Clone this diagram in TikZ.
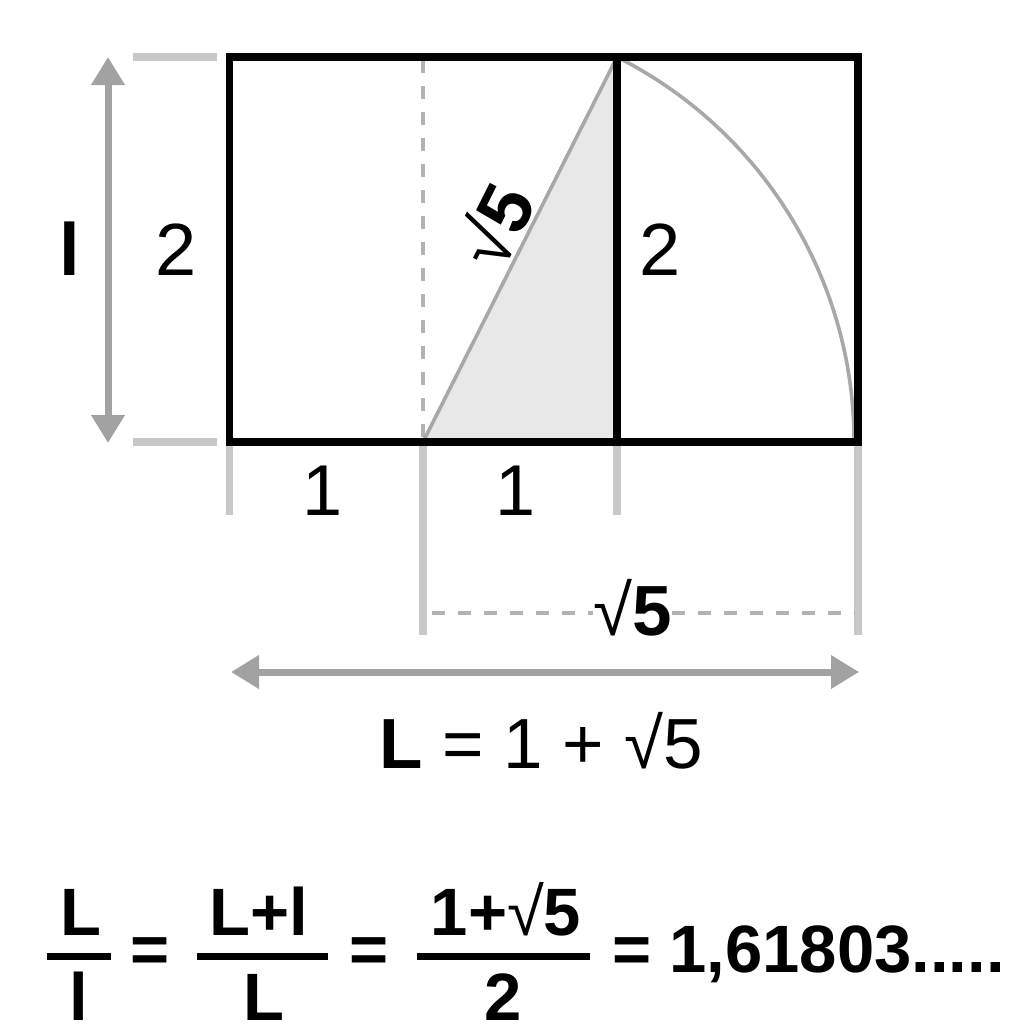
\documentclass[tikz,border=0pt]{standalone}
\usepackage{fontspec}
\setmainfont{Liberation Sans}
\usetikzlibrary{arrows.meta}
\definecolor{arrowgray}{HTML}{A2A2A2}
\definecolor{extgray}{HTML}{C8C8C8}
\definecolor{dashgray}{HTML}{B2B2B2}
\definecolor{guidegray}{HTML}{A8A8A8}
\definecolor{trifill}{HTML}{E8E8E8}
\begin{document}
\begin{tikzpicture}[x=0.5pt,y=-0.5pt,
  frame/.style={line width=3.6pt, black, line join=miter, line cap=rect},
  ext/.style={line width=4pt, color=extgray},
  tickline/.style={line width=3.75pt, color=extgray},
  dimarrow/.style={line width=3.5pt, color=arrowgray,
     {Triangle[length=14pt,width=16pt]}-{Triangle[length=14pt,width=16pt]}},
  dashline/.style={line width=2pt, color=dashgray, dash pattern=on 6.5pt off 6.5pt},
  guide/.style={line width=1.8pt, color=guidegray},
  txt/.style={inner sep=0pt, font=\fontsize{37}{44}\selectfont},
  small/.style={inner sep=0pt, font=\fontsize{36}{42}\selectfont},
  eqtxt/.style={inner sep=0pt, font=\fontsize{35.5}{42}\selectfont},
  ftxt/.style={inner sep=0pt, font=\fontsize{33.5}{40}\bfseries\selectfont},
  fbar/.style={line width=3.5pt, black}]
\useasboundingbox[fill=white] (0,0) rectangle (1024,1024);

% key points
\coordinate (A) at (229.5,57);
\coordinate (B) at (229.5,442);
\coordinate (M) at (423,442);
\coordinate (C) at (617,57);
\coordinate (D) at (617,442);
\coordinate (E) at (858,57);
\coordinate (F) at (858,442);
\coordinate (Mt) at (423,60);

% shaded triangle and guides
\fill[trifill] (M) -- (D) -- (C) -- cycle;
\draw[dashline] (Mt) -- (M);
\draw[guide] (M) -- (C);
\draw[guide] (C) arc[start angle=-63.26, end angle=0, radius=431];

% frame
\draw[frame] (A) rectangle (F);
\draw[frame] (C) -- (D);

% left extension lines and height arrow
\coordinate (et1) at (133,57);
\coordinate (et2) at (217,57);
\coordinate (eb1) at (133,442);
\coordinate (eb2) at (217,442);
\draw[ext] (et1) -- (et2);
\draw[ext] (eb1) -- (eb2);
\coordinate (va1) at (108,57);
\coordinate (va2) at (108,443);
\draw[dimarrow] (va1) -- (va2);

% ticks below
\coordinate (t1a) at (229.5,446); \coordinate (t1b) at (229.5,515);
\coordinate (t2a) at (423,446);   \coordinate (t2b) at (423,635);
\coordinate (t3a) at (617,446);   \coordinate (t3b) at (617,515);
\coordinate (t4a) at (858,446);   \coordinate (t4b) at (858,635);
\draw[tickline] (t1a) -- (t1b);
\draw[tickline] (t2a) -- (t2b);
\draw[tickline] (t3a) -- (t3b);
\draw[tickline] (t4a) -- (t4b);

% labels in the figure
\node[txt, anchor=base] (lsmall) at (70,275) {\bfseries l};
\node[txt, anchor=base] (twoL) at (176,275) {2};
\node[txt, anchor=base] (twoR) at (660,275) {2};
\node[txt, rotate=63.3] (hyp) at (494,225) {√\textbf{5}};
\node[small, anchor=base] (oneA) at (323,515) {1};
\node[small, anchor=base] (oneB) at (516,515) {1};

% sqrt5 dimension
\node[eqtxt, anchor=base east] (s5) at (672,635) {√\textbf{5}};
\coordinate (dl) at (432,613);
\coordinate (dr) at (855,613);
\draw[dashline] (dl) -- (dl -| s5.west);
\draw[dashline] (dr -| s5.east) -- (dr);

% total length arrow
\coordinate (ha1) at (231,672);
\coordinate (ha2) at (859,672);
\draw[dimarrow] (ha1) -- (ha2);
\node[eqtxt, anchor=base west] (Leq) at (379,768) {\textbf{L} = 1 + √5};

% bottom formula
\coordinate (b1a) at (47,956.5);  \coordinate (b1b) at (111,956.5);
\coordinate (b2a) at (197,956.5); \coordinate (b2b) at (328,956.5);
\coordinate (b3a) at (417,956.5); \coordinate (b3b) at (590,956.5);
\draw[fbar] (b1a) -- (b1b);
\draw[fbar] (b2a) -- (b2b);
\draw[fbar] (b3a) -- (b3b);
\node[ftxt, anchor=base] (n1) at (81,935) {L};
\node[ftxt, anchor=base] (d1) at (79,1020) {l};
\node[ftxt] (eq1) at (150,955) {=};
\node[ftxt, anchor=base] (n2) at (259,935) {L+l};
\node[ftxt, anchor=base] (d2) at (264,1020) {L};
\node[ftxt] (eq2) at (369,955) {=};
\node[ftxt, anchor=base] (n3) at (506,935) {1+{\mdseries √}5};
\node[ftxt, anchor=base] (d3) at (503,1020) {2};
\node[ftxt] (eq3) at (632,955) {=};
\node[ftxt, anchor=base west] (val) at (669,972) {1,61803.....};
\end{tikzpicture}
\end{document}
